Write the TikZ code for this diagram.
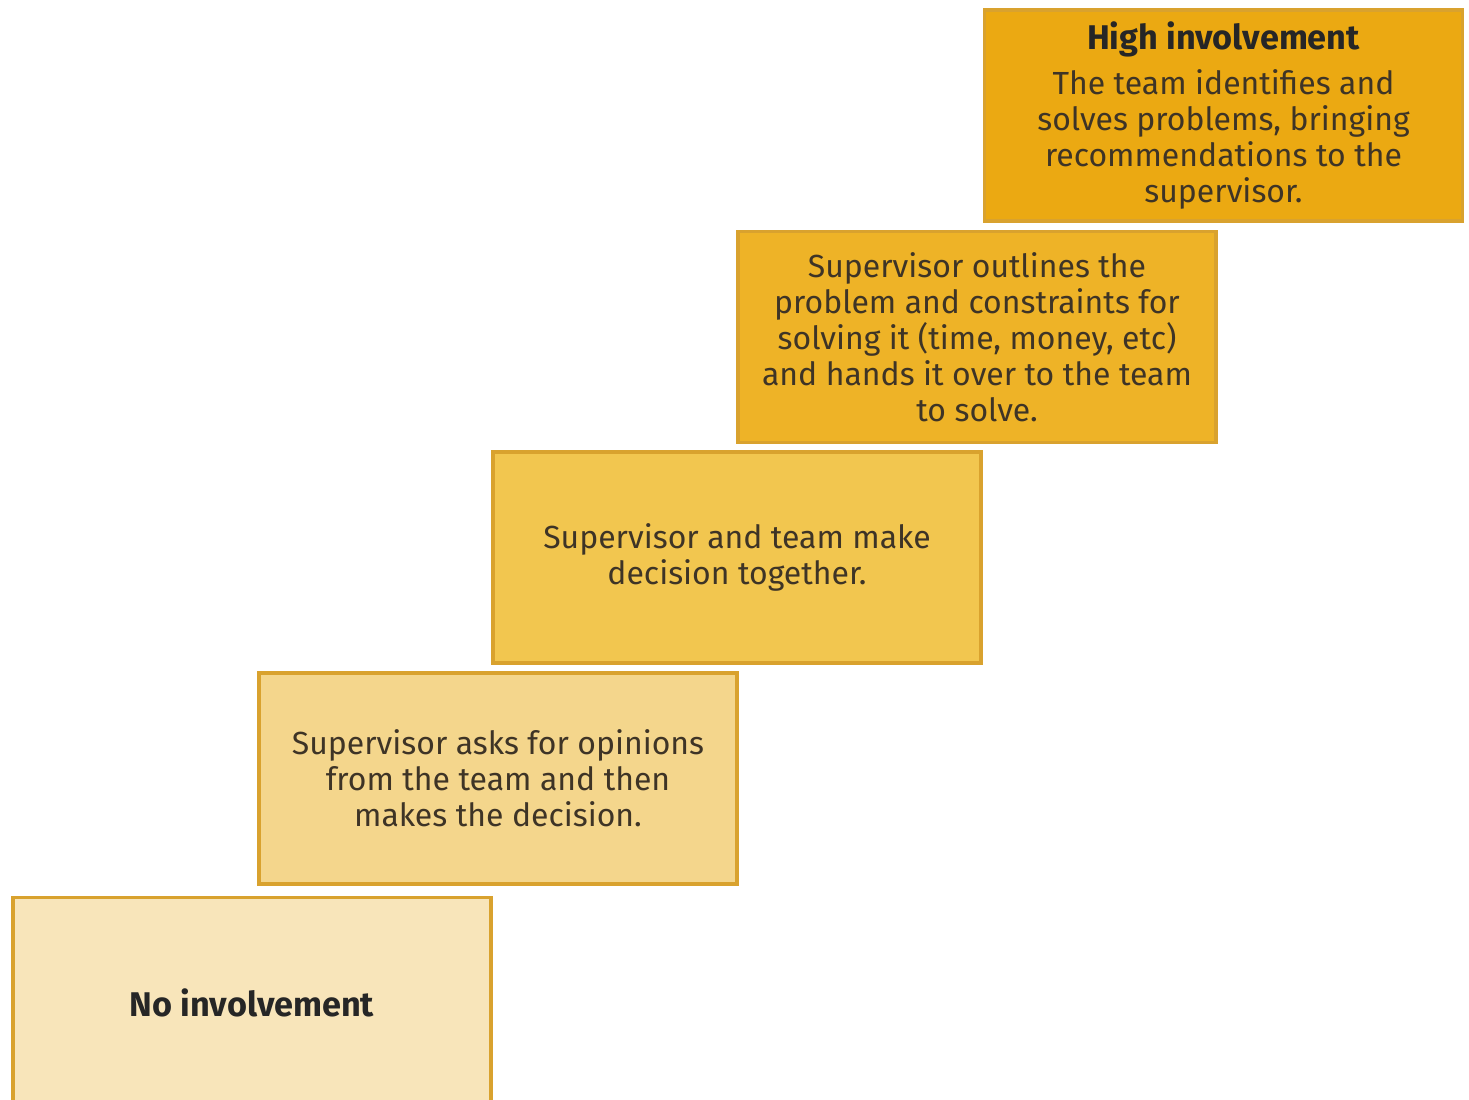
\documentclass[tikz,border=0pt]{standalone}
\usepackage{fontspec}
\setmainfont{Fira Sans}
\usetikzlibrary{positioning}

\definecolor{edgegold}{HTML}{D9A22E}
\definecolor{stepA}{HTML}{F8E5BA}
\definecolor{stepB}{HTML}{F4D68C}
\definecolor{stepC}{HTML}{F2C64F}
\definecolor{stepD}{HTML}{EEB327}
\definecolor{stepE}{HTML}{EBA912}
\definecolor{inktext}{HTML}{3E3426}

\newcommand{\headtext}[1]{{\bfseries\color{black!85}\fontsize{19.5}{20.5}\selectfont #1}}

\begin{document}
\begin{tikzpicture}[x=0.02cm,y=-0.02cm,
	stepbox/.style={draw=edgegold,line width=1.8pt,minimum width=9.56cm,minimum height=4.22cm,
		align=center,inner sep=0pt,text=inktext,font=\fontsize{18.2}{20.5}\selectfont}]
	\useasboundingbox (0,0) rectangle (1469,1099);
	\node[stepbox,fill=stepA] (none) at (252,1003)   {\headtext{No involvement}};
	\node[stepbox,fill=stepB] (asks) at (498,778.5)  {Supervisor asks for opinions\\from the team and then\\makes the decision.};
	\node[stepbox,fill=stepC,minimum width=9.76cm] (joint) at (737,557.5) {Supervisor and team make\\decision together.};
	\node[stepbox,fill=stepD] (hands) at (977,337)   {Supervisor outlines the\\problem and constraints for\\solving it (time, money, etc)\\and hands it over to the team\\to solve.};
	\node[stepbox,fill=stepE] (high) at (1223.5,115.5) {\headtext{High involvement}\\[5pt]The team identifies and\\solves problems, bringing\\recommendations to the\\supervisor.};
\end{tikzpicture}
\end{document}
